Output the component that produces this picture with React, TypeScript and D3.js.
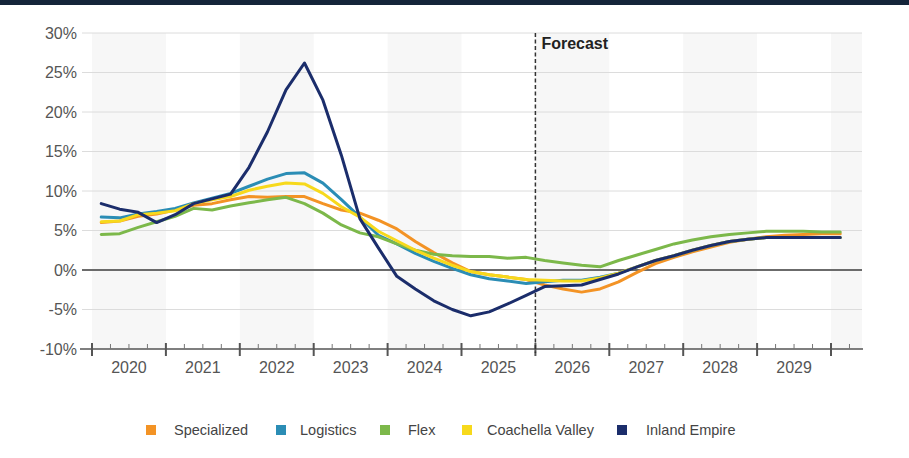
import { useEffect, useRef } from "react";
import * as d3 from "d3";

// years on the axis, quarters inside each year
const years = [2020, 2021, 2022, 2023, 2024, 2025, 2026, 2027, 2028, 2029];
const quarters = ["Q1", "Q2", "Q3", "Q4"];
const yTicks = [-10, -5, 0, 5, 10, 15, 20, 25, 30];
const forecastStart = 2026;

// quarterly vacancy change, 2020Q1 .. 2030Q1
const specialized = [
  6.0, 6.2, 6.8, 7.1, 7.6, 8.2, 8.4, 8.9, 9.3, 9.2, 9.3, 9.3, 8.4, 7.6, 7.2, 6.3, 5.2, 3.6, 2.2, 0.9,
  -0.2, -0.6, -0.9, -1.2, -1.9, -2.4, -2.8, -2.4, -1.5, -0.3, 0.8, 1.6, 2.3, 2.9, 3.5, 3.9, 4.2, 4.4,
  4.5, 4.6, 4.6,
];
const logistics = [
  6.7, 6.6, 7.1, 7.4, 7.8, 8.5, 9.1, 9.7, 10.6, 11.5, 12.2, 12.3, 11.0, 8.9, 6.7, 4.4, 3.3, 2.1, 1.1,
  0.2, -0.6, -1.1, -1.4, -1.7, -1.5, -1.3, -1.3, -0.9, -0.4, 0.4, 1.2, 1.8, 2.5, 3.1, 3.6, 3.9, 4.1,
  4.1, 4.1, 4.1, 4.1,
];
const flex = [
  4.5, 4.6, 5.4, 6.1, 6.8, 7.8, 7.6, 8.1, 8.5, 8.9, 9.2, 8.4, 7.2, 5.7, 4.7, 4.2, 3.3, 2.5, 2.0, 1.8,
  1.7, 1.7, 1.5, 1.6, 1.2, 0.9, 0.6, 0.4, 1.2, 1.9, 2.6, 3.3, 3.8, 4.2, 4.5, 4.7, 4.9, 4.9, 4.9, 4.8,
  4.8,
];
const coachella = [
  6.1, 6.2, 7.0, 7.2, 7.5, 8.4, 8.9, 9.3, 10.1, 10.6, 11.0, 10.9, 9.7, 8.0, 6.7, 4.9, 3.7, 2.5, 1.5,
  0.6, -0.2, -0.6, -0.9, -1.2, -1.3, -1.4, -1.4, -1.0, -0.4, 0.4, 1.2, 1.8, 2.5, 3.1, 3.6, 3.9, 4.1,
  4.1, 4.1, 4.1, 4.1,
];
const inlandEmpire = [
  8.4, 7.7, 7.3, 6.0, 7.0, 8.4, 9.0, 9.6, 13.0, 17.5, 22.8, 26.2, 21.5, 14.5, 6.5, 2.8, -0.8, -2.4,
  -3.9, -5.0, -5.8, -5.3, -4.3, -3.2, -2.1, -2.0, -1.9, -1.2, -0.5, 0.4, 1.2, 1.8, 2.5, 3.1, 3.6, 3.9,
  4.1, 4.1, 4.1, 4.1, 4.1,
];

const seriesNames = ["Specialized", "Logistics", "Flex", "Coachella Valley", "Inland Empire"];
const seriesValues = [specialized, logistics, flex, coachella, inlandEmpire];
const seriesColors = ["#f39325", "#2b8db5", "#7cb84a", "#f7d91c", "#1b2d6b"];

const App = () => {
  const svgRef = useRef<SVGSVGElement>(null);

  useEffect(() => {
    if (!svgRef.current) return;

    const width = 909;
    const height = 458;
    const font = "'Liberation Sans', Arial, sans-serif";

    const svg = d3.select(svgRef.current);
    svg.selectAll("*").remove();
    svg.attr("width", width).attr("height", height).style("font-family", font);

    // quarter positions, plotted at the middle of each quarter
    const periods = [...years, 2030]
      .flatMap((y) => quarters.map((q, i) => ({ label: `${y}${q}`, t: y + (i + 0.5) / 4 })))
      .slice(0, specialized.length);

    const x = d3.scaleLinear().domain([2020, 2030]).range([92, 831]);
    const y = d3.scaleLinear().domain([-10, 30]).range([349, 33]);

    svg.append("rect").attr("width", width).attr("height", height).attr("fill", "#fff");
    // dark strip at the top
    svg.append("rect").attr("width", width).attr("height", 5).attr("fill", "#14253a");

    // alternating year bands
    const bandYears = [...years, 2030].filter((d) => d % 2 === 0);
    svg
      .append("g")
      .selectAll("rect")
      .data(bandYears)
      .join("rect")
      .attr("x", (d) => x(d))
      .attr("y", y(30))
      .attr("width", (d) => Math.min(x(d + 1), 862) - x(d))
      .attr("height", y(-10) - y(30))
      .attr("fill", "#f7f7f7");

    // grid
    svg
      .append("g")
      .selectAll("line")
      .data(yTicks.filter((d) => d !== -10 && d !== 0))
      .join("line")
      .attr("x1", 82)
      .attr("x2", 862)
      .attr("y1", (d) => y(d))
      .attr("y2", (d) => y(d))
      .attr("stroke", "#dcdcdc")
      .attr("stroke-width", 1);

    svg
      .append("line")
      .attr("x1", 82)
      .attr("x2", 862)
      .attr("y1", y(0))
      .attr("y2", y(0))
      .attr("stroke", "#6b6b6b")
      .attr("stroke-width", 2);

    // y labels
    svg
      .append("g")
      .selectAll("text")
      .data(yTicks)
      .join("text")
      .attr("x", 77)
      .attr("y", (d) => y(d))
      .attr("dy", "0.36em")
      .attr("text-anchor", "end")
      .attr("fill", "#555")
      .style("font-size", "16px")
      .text((d) => `${d}%`);

    // x axis line + ticks
    const axisY = y(-10);
    svg
      .append("line")
      .attr("x1", 80)
      .attr("x2", 863)
      .attr("y1", axisY)
      .attr("y2", axisY)
      .attr("stroke", "#555")
      .attr("stroke-width", 1.5);

    const majorTicks = [...years, 2030];
    svg
      .append("g")
      .selectAll("line")
      .data(majorTicks)
      .join("line")
      .attr("x1", (d) => x(d))
      .attr("x2", (d) => x(d))
      .attr("y1", axisY - 6)
      .attr("y2", axisY + 7)
      .attr("stroke", "#555")
      .attr("stroke-width", 2);

    const minorTicks = [...years, 2030]
      .flatMap((yr) => [0.25, 0.5, 0.75].map((f) => yr + f))
      .filter((d) => x(d) < 860);
    svg
      .append("g")
      .selectAll("line")
      .data(minorTicks)
      .join("line")
      .attr("x1", (d) => x(d))
      .attr("x2", (d) => x(d))
      .attr("y1", axisY - 5)
      .attr("y2", axisY)
      .attr("stroke", "#777")
      .attr("stroke-width", 1);

    svg
      .append("g")
      .selectAll("text")
      .data(years)
      .join("text")
      .attr("x", (d) => x(d + 0.5))
      .attr("y", 373)
      .attr("text-anchor", "middle")
      .attr("fill", "#555")
      .style("font-size", "16px")
      .text((d) => `${d}`);

    // forecast marker
    svg
      .append("line")
      .attr("x1", x(forecastStart))
      .attr("x2", x(forecastStart))
      .attr("y1", y(30))
      .attr("y2", axisY + 4)
      .attr("stroke", "#333")
      .attr("stroke-width", 1.5)
      .attr("stroke-dasharray", "4,2.5");

    svg
      .append("text")
      .attr("x", x(forecastStart) + 6)
      .attr("y", 49)
      .attr("fill", "#222")
      .style("font-size", "16px")
      .style("font-weight", "bold")
      .text("Forecast");

    // lines
    const line = d3
      .line<number>()
      .x((_, i) => x(periods[i].t))
      .y((d) => y(d))
      .curve(d3.curveLinear);

    svg
      .append("g")
      .selectAll("path")
      .data(seriesValues)
      .join("path")
      .attr("d", (d) => line(d))
      .attr("fill", "none")
      .attr("stroke", (_, i) => seriesColors[i])
      .attr("stroke-width", 3)
      .attr("stroke-linejoin", "round")
      .attr("stroke-linecap", "round");

    // legend
    const legendX = [151, 281, 385, 467, 622];
    const legendTextX = [23, 19, 23, 20, 24];
    const legend = svg
      .append("g")
      .selectAll("g")
      .data(seriesNames)
      .join("g")
      .attr("transform", (_, i) => `translate(${legendX[i]},430)`);

    legend
      .append("rect")
      .attr("x", -5)
      .attr("y", -5)
      .attr("width", 10)
      .attr("height", 10)
      .attr("fill", (_, i) => seriesColors[i]);

    legend
      .append("text")
      .attr("x", (_, i) => legendTextX[i])
      .attr("y", 5)
      .attr("fill", "#444")
      .style("font-size", "14.5px")
      .text((d) => d);
  }, []);

  return (
    <div style={{ position: "absolute", left: 0, top: 0 }}>
      <svg ref={svgRef}></svg>
    </div>
  );
};

export default App;
